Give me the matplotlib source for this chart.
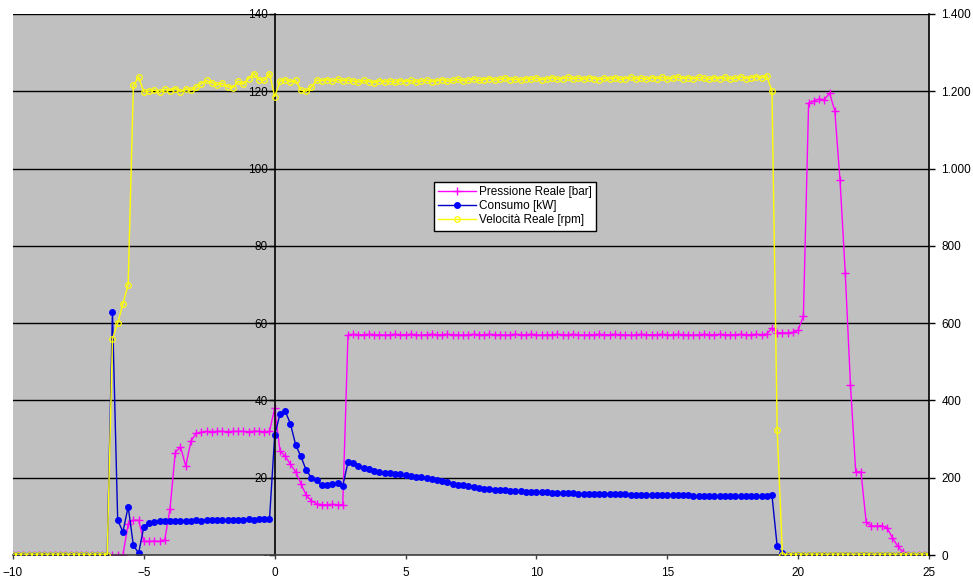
import numpy as np
import matplotlib
matplotlib.use('Agg')
import matplotlib.pyplot as plt
from matplotlib.ticker import FuncFormatter, MultipleLocator

plt.rcParams['font.family'] = ['Liberation Sans', 'DejaVu Sans']

# sample times [s], one sample every 0.2 s
tempo = np.round(np.arange(-10.0, 25.0001, 0.2), 1)

# Pressione Reale [bar]
pressione = ([0.0] * 22 +
             [8.0, 9.0, 9.0, 3.5, 3.5, 3.6, 3.5, 4.0, 12.0, 26.5, 28.0, 23.0, 29.5, 31.5] +
             [31.8, 32.0, 31.9, 32.0, 32.0, 31.9, 32.0, 32.0, 32.0, 31.9, 32.0, 32.0, 31.9, 32.0] +
             [38.0, 27.0, 25.5, 23.5, 21.5, 18.5, 15.5, 14.0, 13.3] +
             [13.0, 13.0, 13.1, 13.0, 13.0] +
             [57.0] +
             [57.1, 57.0, 57.0, 57.1, 57.0, 57.0, 56.9, 57.0, 57.1, 57.0,
              57.0, 57.1, 57.0, 56.9, 57.0, 57.1, 57.0, 57.0, 57.1, 57.0,
              57.0, 56.9, 57.0, 57.1, 57.0, 57.0, 57.1, 57.0, 57.0, 56.9,
              57.0, 57.1, 57.0, 57.0, 57.1, 57.0, 56.9, 57.0, 57.0, 57.1,
              57.0, 57.0, 57.1, 57.0, 56.9, 57.0, 57.0, 57.1, 57.0, 57.0,
              57.1, 57.0, 57.0, 56.9, 57.0, 57.1, 57.0, 57.0, 57.0, 57.1,
              57.0, 57.0, 57.1, 57.0, 57.0, 56.9, 57.0, 57.1, 57.0, 57.0,
              57.1, 57.0, 57.0, 57.0, 57.1, 57.0, 57.0, 57.1, 57.0, 57.2] +
             [58.7, 57.5, 57.5, 57.5, 57.6, 58.2, 61.8, 117.0, 117.5, 118.0,
              117.8, 119.5, 115.0, 97.0, 73.0, 44.0, 21.5, 21.5, 8.5, 7.5,
              7.5, 7.6, 7.0, 4.5, 2.3, 0.8] +
             [0.0] * 5)

# Consumo [kW]
consumo = ([0.0] * 19 +
           [63.0, 9.0, 6.0, 12.5, 2.5, 0.5, 7.3, 8.3, 8.6] +
           [8.8, 8.8, 8.9, 8.8, 8.9, 8.9, 8.9, 9.0, 8.9, 9.0, 9.0,
            9.0, 9.1, 9.0, 9.1, 9.1, 9.1, 9.2, 9.1, 9.2, 9.2, 9.2] +
           [31.0, 36.5, 37.2, 34.0, 28.5, 25.5, 22.0, 20.0, 19.4, 18.0, 18.0,
            18.5, 18.6, 17.9, 24.0, 23.8, 23.0, 22.5, 22.3, 21.8, 21.5] +
           [21.3, 21.2, 21.0, 20.9, 20.7, 20.5, 20.3, 20.1, 19.9, 19.6,
            19.4, 19.1, 18.8, 18.5, 18.2, 18.0, 17.8, 17.6, 17.4, 17.2,
            17.0, 16.9, 16.8, 16.7, 16.6, 16.5, 16.5, 16.4, 16.3, 16.3,
            16.2, 16.2, 16.1, 16.1, 16.0, 16.0, 16.0, 15.9, 15.9, 15.9,
            15.8, 15.8, 15.8, 15.8, 15.7, 15.7, 15.7, 15.6, 15.6, 15.6,
            15.6, 15.5, 15.5, 15.5, 15.5, 15.4, 15.4, 15.4, 15.4, 15.3,
            15.3, 15.3, 15.3, 15.2, 15.3, 15.2, 15.2, 15.3, 15.2, 15.3,
            15.2, 15.3, 15.3, 15.3, 15.4] +
           [2.2, 0.5] +
           [0.0] * 28)

# Velocita Reale [rpm]
velocita = ([0.0] * 19 +
            [560, 600, 650, 700, 1215, 1237, 1198,
             1200, 1203, 1197, 1205, 1202, 1207, 1199, 1206, 1203, 1210,
             1220, 1228, 1222, 1216, 1221, 1212, 1209, 1226, 1218, 1233,
             1246, 1230, 1228, 1246] +
            [1186] +
            [1226, 1230, 1224, 1228, 1203, 1200, 1210, 1229, 1227, 1230,
             1226, 1231, 1227, 1229] +
            [1226, 1224, 1228, 1225, 1222, 1227, 1224, 1226, 1223, 1227,
             1225, 1228, 1224, 1226, 1229, 1225, 1227, 1230, 1226, 1228,
             1231, 1227, 1229, 1232, 1228, 1230, 1233, 1229, 1231, 1234,
             1230, 1232, 1229, 1233, 1231, 1234, 1230, 1232, 1235, 1231,
             1233, 1236, 1232, 1234, 1231, 1235, 1233, 1230, 1234, 1232,
             1235, 1231, 1233, 1236, 1232, 1234, 1231, 1235, 1233, 1236,
             1232, 1234, 1237, 1233, 1235, 1232, 1236, 1234, 1231, 1235,
             1233, 1236, 1232, 1234, 1237, 1233, 1235, 1238, 1234, 1240] +
            [1200, 323, 0] +
            [0.0] * 28)

x_ticks = [-10, -5, 0, 5, 10, 15, 20, 25]


fig = plt.figure(figsize=(9.73, 5.81), dpi=100)
ax = fig.add_axes([13 / 973, 26 / 581, 916 / 973, 541 / 581])
ax.set_facecolor('#C0C0C0')

l1, = ax.plot(tempo, pressione, color='#FF00FF', lw=1, marker='+', ms=5.5, mew=1,
              label='Pressione Reale [bar]')
l2, = ax.plot(tempo, consumo, color='#0000C8', lw=1, marker='o', ms=4,
              mfc='#0000FF', mec='#0000FF', label='Consumo [kW]')

ax.set_xlim(-10, 25)
ax.set_ylim(0, 140)
ax.set_xticks(x_ticks)
ax.yaxis.set_major_locator(MultipleLocator(20))
ax.yaxis.set_major_formatter(FuncFormatter(lambda v, p: '-' if v == 0 else '%d' % v))

# y axis crosses at x = 0, like the Excel chart
ax.spines['left'].set_position(('data', 0))
ax.spines['left'].set_color('black')
ax.spines['left'].set_linewidth(1.2)
ax.spines['right'].set_visible(False)
ax.spines['top'].set_visible(False)
ax.spines['bottom'].set_color('#404040')
ax.spines['bottom'].set_linewidth(1.2)

ax.grid(axis='y', color='black', lw=1)
ax.get_ygridlines()[-1].set_visible(False)
ax.set_axisbelow(True)
ax.tick_params(axis='y', direction='out', length=4, width=1, labelsize=8.5, pad=1)
ax.tick_params(axis='x', direction='out', length=3, width=1, color='#404040',
               labelsize=8.5, pad=6)

ax2 = ax.twinx()
l3, = ax2.plot(tempo, velocita, color='#FFFF00', lw=1, marker='o', ms=4, mew=0.9,
               mfc='none', mec='#FFFF00', label='Velocità Reale [rpm]')
ax2.set_ylim(0, 1400)
ax2.yaxis.set_major_locator(MultipleLocator(200))
ax2.yaxis.set_major_formatter(FuncFormatter(lambda v, p: f'{int(v):,}'.replace(',', '.')))
for s in ['left', 'top', 'bottom']:
    ax2.spines[s].set_visible(False)
ax2.spines['right'].set_color('black')
ax2.spines['right'].set_linewidth(1.2)
ax2.tick_params(axis='y', direction='out', length=4, width=1, labelsize=8.5, pad=5)

leg = ax2.legend([l1, l2, l3], [l1.get_label(), l2.get_label(), l3.get_label()],
                 loc='center', bbox_to_anchor=(0.548, 0.645), fontsize=8.5,
                 fancybox=False, framealpha=1, edgecolor='black', borderpad=0.35,
                 labelspacing=0.2, handlelength=3.2, handletextpad=0.2, numpoints=1,
                 borderaxespad=0)
leg.get_frame().set_linewidth(1)

fig.savefig('out.png', dpi=100)
